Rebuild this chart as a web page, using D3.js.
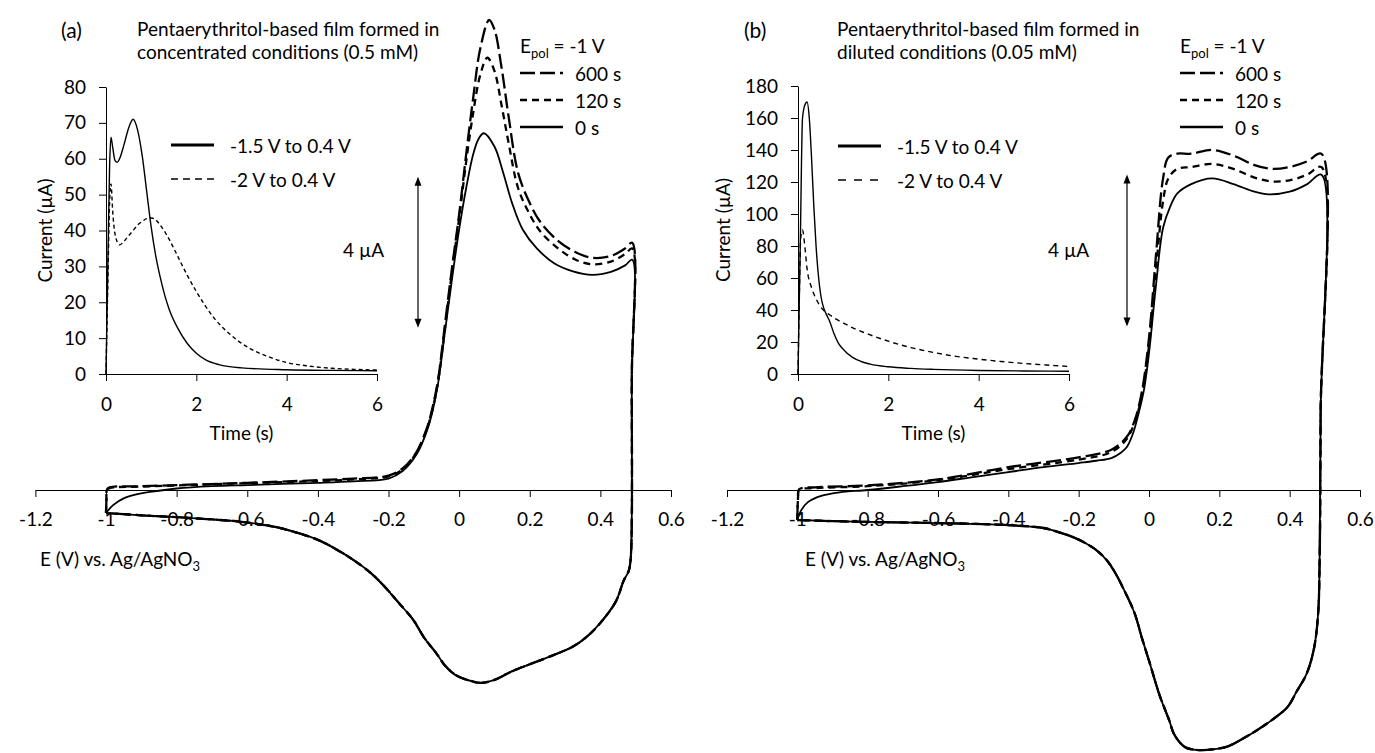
<!DOCTYPE html>
<html>
<head>
<meta charset="utf-8">
<script src="https://d3js.org/d3.v7.min.js"></script>
<style>
  body { margin: 0; background: #fff; }
  svg text { font-family: Lato, "Open Sans", sans-serif; fill: #000; }
</style>
</head>
<body>
<script>
// ---------------- data ----------------
var eTicks = [-1.2, -1, -0.8, -0.6, -0.4, -0.2, 0, 0.2, 0.4, 0.6];
var eLabels = ["-1.2", "-1", "-0.8", "-0.6", "-0.4", "-0.2", "0", "0.2", "0.4", "0.6"];
var tTicks = [0, 2, 4, 6];
var iTicksA = [0, 10, 20, 30, 40, 50, 60, 70, 80];
var iTicksB = [0, 20, 40, 60, 80, 100, 120, 140, 160, 180];
var polNames = ["600 s", "120 s", "0 s"];
var stepNames = ["-1.5 V to 0.4 V", "-2 V to 0.4 V"];

// panel (a) cyclic voltammograms: [E (V), I (µA)], forward branch then return branch
var cvA_0s_up = [[-1.0,-0.61],[-0.98,-0.4],[-0.95,-0.22],[-0.9,-0.09],[-0.85,-0.02],[-0.8,0.04],[-0.7,0.1],[-0.6,0.13],[-0.5,0.16],[-0.4,0.19],[-0.3,0.23],[-0.2,0.3],[-0.16,0.5],[-0.12,0.95],[-0.09,1.6],[-0.075,2.1],[-0.06,2.8],[-0.04,4.2],[-0.02,5.6],[0.0,6.9],[0.02,8.0],[0.04,8.9],[0.055,9.3],[0.07,9.45],[0.1,9.1],[0.125,8.4],[0.15,7.6],[0.18,6.9],[0.22,6.4],[0.27,6.0],[0.32,5.8],[0.377,5.7],[0.43,5.78],[0.47,5.95],[0.49,6.1]];
var cvA_120s_up = [[-1.0,-0.61],[-0.999,-0.3],[-0.997,0.0],[-0.99,0.05],[-0.9,0.09],[-0.8,0.12],[-0.6,0.18],[-0.4,0.24],[-0.3,0.28],[-0.2,0.36],[-0.16,0.55],[-0.12,1.0],[-0.09,1.65],[-0.075,2.15],[-0.06,2.85],[-0.04,4.3],[-0.02,5.8],[0.0,7.2],[0.02,8.7],[0.04,10.0],[0.06,11.0],[0.08,11.45],[0.1,11.1],[0.12,10.2],[0.14,9.2],[0.167,8.0],[0.2,7.3],[0.23,6.85],[0.28,6.4],[0.33,6.1],[0.377,5.98],[0.43,6.05],[0.47,6.25],[0.49,6.4]];
var cvA_600s_up = [[-1.0,-0.61],[-0.999,-0.3],[-0.997,0.02],[-0.99,0.07],[-0.9,0.1],[-0.8,0.13],[-0.6,0.19],[-0.4,0.26],[-0.3,0.3],[-0.2,0.38],[-0.16,0.57],[-0.12,1.02],[-0.09,1.68],[-0.075,2.2],[-0.06,2.9],[-0.04,4.4],[-0.02,5.9],[0.0,7.3],[0.02,8.9],[0.04,10.4],[0.06,11.7],[0.085,12.45],[0.1,12.2],[0.12,11.2],[0.14,9.9],[0.167,8.4],[0.2,7.6],[0.23,7.1],[0.28,6.6],[0.33,6.3],[0.377,6.15],[0.43,6.2],[0.47,6.4],[0.49,6.55]];
var cvA_down = [[0.489,3.0],[0.486,-1.8],[0.48,-2.15],[0.466,-2.4],[0.444,-2.95],[0.40,-3.52],[0.36,-3.9],[0.32,-4.16],[0.26,-4.4],[0.21,-4.58],[0.15,-4.8],[0.10,-5.03],[0.062,-5.11],[0.03,-5.05],[-0.01,-4.9],[-0.04,-4.65],[-0.065,-4.32],[-0.1,-3.9],[-0.13,-3.44],[-0.17,-3.0],[-0.21,-2.57],[-0.25,-2.2],[-0.30,-1.85],[-0.35,-1.56],[-0.40,-1.32],[-0.46,-1.13],[-0.52,-0.98],[-0.61,-0.85],[-0.7,-0.78],[-0.8,-0.72],[-0.9,-0.67],[-1.0,-0.61]];

// panel (b) cyclic voltammograms
var cvB_0s_up = [[-1.0,-0.79],[-0.99,-0.55],[-0.97,-0.32],[-0.93,-0.15],[-0.88,-0.06],[-0.8,0.0],[-0.7,0.1],[-0.6,0.21],[-0.5,0.34],[-0.4,0.47],[-0.3,0.6],[-0.2,0.71],[-0.15,0.77],[-0.107,0.84],[-0.08,0.98],[-0.063,1.13],[-0.045,1.5],[-0.03,2.0],[-0.015,2.6],[0.0,3.6],[0.02,5.4],[0.04,6.9],[0.06,7.45],[0.08,7.8],[0.12,8.05],[0.18,8.2],[0.24,8.05],[0.3,7.85],[0.34,7.78],[0.4,7.85],[0.45,8.05],[0.49,8.3]];
var cvB_120s_up = [[-1.0,-0.79],[-0.998,-0.2],[-0.995,0.0],[-0.95,0.05],[-0.8,0.1],[-0.6,0.26],[-0.4,0.55],[-0.2,0.8],[-0.107,1.0],[-0.063,1.35],[-0.04,1.8],[-0.02,2.5],[0.0,3.8],[0.02,5.8],[0.04,7.6],[0.055,8.2],[0.08,8.45],[0.12,8.5],[0.18,8.58],[0.24,8.45],[0.3,8.22],[0.35,8.12],[0.4,8.15],[0.45,8.3],[0.49,8.5]];
var cvB_600s_up = [[-1.0,-0.79],[-0.998,-0.2],[-0.995,0.02],[-0.95,0.07],[-0.8,0.12],[-0.6,0.28],[-0.4,0.6],[-0.2,0.86],[-0.107,1.06],[-0.063,1.4],[-0.04,1.85],[-0.02,2.6],[0.0,4.0],[0.02,6.2],[0.04,8.2],[0.055,8.75],[0.08,8.85],[0.12,8.85],[0.18,8.95],[0.24,8.8],[0.3,8.55],[0.35,8.45],[0.4,8.5],[0.45,8.65],[0.49,8.85]];
var cvB_down = [[0.488,2.0],[0.485,-2.0],[0.481,-3.24],[0.47,-4.13],[0.449,-4.82],[0.42,-5.3],[0.394,-5.71],[0.35,-6.05],[0.307,-6.32],[0.26,-6.58],[0.22,-6.76],[0.166,-6.84],[0.133,-6.84],[0.105,-6.78],[0.089,-6.66],[0.07,-6.4],[0.057,-6.05],[0.03,-5.4],[0.002,-4.55],[-0.02,-3.9],[-0.041,-3.24],[-0.07,-2.65],[-0.096,-2.18],[-0.12,-1.85],[-0.15,-1.58],[-0.18,-1.4],[-0.216,-1.24],[-0.26,-1.1],[-0.30,-1.0],[-0.41,-0.92],[-0.6,-0.87],[-0.8,-0.84],[-0.9,-0.82],[-1.0,-0.79]];

// insets: current transients [t (s), I (µA)]
var caA_15 = [[0,0],[0.04,30],[0.08,58],[0.11,66],[0.15,63],[0.2,59.5],[0.25,59],[0.3,60],[0.4,64],[0.5,68.5],[0.6,71],[0.7,68],[0.8,61],[0.9,51],[1.0,41],[1.1,33],[1.2,27],[1.3,22],[1.4,18],[1.6,12.5],[1.8,8.5],[2.0,5.8],[2.2,4.0],[2.5,2.6],[3,1.7],[4,1.2],[5,1.0],[6,0.9]];
var caA_20 = [[0,0],[0.04,25],[0.08,48],[0.11,53],[0.15,45],[0.2,39],[0.3,36],[0.4,37],[0.5,38.5],[0.6,40],[0.7,41.5],[0.8,42.5],[0.9,43.3],[1.0,43.5],[1.1,43],[1.2,41.5],[1.4,37.5],[1.6,32.5],[1.8,27.5],[2.0,23],[2.4,15.5],[2.8,10.5],[3.2,7],[3.6,4.8],[4,3.2],[4.5,2.2],[5,1.6],[5.5,1.3],[6,1.1]];
var caB_15 = [[0,0],[0.05,80],[0.1,160],[0.15,168],[0.2,170],[0.25,160],[0.3,135],[0.35,105],[0.4,80],[0.45,62],[0.5,50],[0.55,43],[0.6,39],[0.65,36],[0.7,33],[0.8,25],[0.9,19],[1.0,15.5],[1.2,10.5],[1.4,7.8],[1.6,6.2],[2.0,4.5],[2.5,3.5],[3,2.9],[4,2.2],[5,1.9],[6,1.7]];
var caB_20 = [[0,0],[0.03,50],[0.06,85],[0.1,90],[0.15,80],[0.2,66],[0.3,54],[0.4,47],[0.5,42],[0.6,39],[0.7,37],[0.8,35],[1.0,32],[1.2,29],[1.5,25.5],[2,20.5],[2.5,16.5],[3,13.5],[3.5,11],[4,9.3],[4.5,7.8],[5,6.6],[5.5,5.6],[6,4.7]];

// ---------------- drawing ----------------
var W = 1375, H = 753, FS = 19;
var svg = d3.select("body").append("svg").attr("width", W).attr("height", H);

var styles = {
  "600 s": {dash: "15,5", w: 2.3},
  "120 s": {dash: "7,5", w: 2.3},
  "0 s": {dash: null, w: 1.8}
};

function txt(x, y, s, size, anchor) {
  return svg.append("text").attr("x", x).attr("y", y).attr("font-size", size || FS)
    .attr("text-anchor", anchor || "start").attr("dominant-baseline", "central").text(s);
}

function arrow(x, y1, y2) {
  svg.append("line").attr("x1", x).attr("x2", x).attr("y1", y1 + 6).attr("y2", y2 - 6)
    .attr("stroke", "#000").attr("stroke-width", 1.2);
  svg.append("path").attr("d", "M" + x + "," + y1 + "l-3.5,9h7z").attr("fill", "#000");
  svg.append("path").attr("d", "M" + x + "," + y2 + "l-3.5,-9h7z").attr("fill", "#000");
}

function drawPanel(p) {
  var x = d3.scaleLinear().domain([-1.2, 0.6]).range(p.xr);
  var y = d3.scaleLinear().domain([0, 4]).range([490, 490 - 4 * p.pxPerUA]);
  var t = d3.scaleLinear().domain([0, 6]).range(p.tr);
  var yi = d3.scaleLinear().domain([0, p.iMax]).range([374, p.iTop]);

  // main potential axis
  var gx = svg.append("g").attr("transform", "translate(0,490)")
    .call(d3.axisBottom(x).tickValues(eTicks).tickFormat(function(d, i) { return eLabels[i]; })
      .tickSize(7).tickSizeOuter(0).tickPadding(16));
  gx.selectAll("text").attr("font-size", FS).attr("font-family", null);
  gx.selectAll("path,line").attr("stroke", "#000");

  // inset axes
  var gt = svg.append("g").attr("transform", "translate(0,374)")
    .call(d3.axisBottom(t).tickValues(tTicks).tickFormat(d3.format("d"))
      .tickSize(7).tickSizeOuter(0).tickPadding(17));
  var gi = svg.append("g").attr("transform", "translate(" + p.tr[0] + ",0)")
    .call(d3.axisLeft(yi).tickValues(p.iTicks).tickSize(7).tickSizeOuter(0).tickPadding(13));
  [gt, gi].forEach(function(g) {
    g.selectAll("text").attr("font-size", FS).attr("font-family", null);
    g.selectAll("path,line").attr("stroke", "#000");
  });

  txt(t(3), 432, "Time (s)", FS, "middle");
  svg.append("text").attr("font-size", FS).attr("text-anchor", "middle").attr("dominant-baseline", "central")
    .attr("transform", "translate(" + p.curX + "," + yi(p.iMax / 2) + ") rotate(-90)").text("Current (µA)");

  // inset curves
  var li = d3.line().x(function(d) { return t(d[0]); }).y(function(d) { return yi(d[1]); }).curve(d3.curveMonotoneX);
  svg.append("path").attr("d", li(p.ca[0])).attr("fill", "none").attr("stroke", "#000").attr("stroke-width", 1.4);
  svg.append("path").attr("d", li(p.ca[1])).attr("fill", "none").attr("stroke", "#000").attr("stroke-width", 1.4)
    .attr("stroke-dasharray", p.caDash);

  // inset legend
  svg.append("line").attr("x1", p.leg1[0]).attr("x2", p.leg1[0] + 43).attr("y1", p.leg1[1]).attr("y2", p.leg1[1])
    .attr("stroke", "#000").attr("stroke-width", 3);
  svg.append("line").attr("x1", p.leg1[0]).attr("x2", p.leg1[0] + 43).attr("y1", p.leg1[2]).attr("y2", p.leg1[2])
    .attr("stroke", "#000").attr("stroke-width", 1.6).attr("stroke-dasharray", p.legDash);
  txt(p.leg1[0] + 59, p.leg1[1], stepNames[0]);
  txt(p.leg1[0] + 59, p.leg1[2], stepNames[1]);

  // CV curves
  var lc = d3.line().x(function(d) { return x(d[0]); }).y(function(d) { return y(d[1]); })
    .curve(d3.curveCatmullRom.alpha(0.5));
  ["0 s", "120 s", "600 s"].forEach(function(name) {
    var st = styles[name];
    svg.append("path").attr("d", lc(p.cv[name].concat(p.cvDown))).attr("fill", "none")
      .attr("stroke", "#000").attr("stroke-width", st.w).attr("stroke-dasharray", st.dash)
      .attr("stroke-linejoin", "round");
  });

  // scale bar
  arrow(p.arrowX, y(8.3), y(4.3));
  txt(p.scaleTxtX, 249, "4 µA");

  // E_pol legend
  var lg = svg.append("text").attr("x", p.leg2[0]).attr("y", 53).attr("font-size", FS);
  lg.append("tspan").text("E");
  lg.append("tspan").attr("font-size", 13).attr("dy", 5).text("pol");
  lg.append("tspan").attr("dy", -5).text(" = -1 V");
  polNames.forEach(function(name, k) {
    var yy = [73, 100, 127][k];
    svg.append("line").attr("x1", p.leg2[0]).attr("x2", p.leg2[0] + 43).attr("y1", yy).attr("y2", yy)
      .attr("stroke", "#000").attr("stroke-width", 2.3).attr("stroke-dasharray", styles[name].dash);
    txt(p.leg2[0] + 55, yy, name);
  });

  // E axis title
  var et = svg.append("text").attr("x", p.eTitleX).attr("y", 566).attr("font-size", FS);
  et.append("tspan").text("E (V) vs. Ag/AgNO");
  et.append("tspan").attr("font-size", 13).attr("dy", 5).text("3");

  // panel letter and title
  txt(p.letterX, 29, p.letter, 21);
  txt(p.titleX, 28, "Pentaerythritol-based film formed in");
  txt(p.titleX, 51, p.title2);
}

drawPanel({
  letter: "(a)", letterX: 61, titleX: 137, title2: "concentrated conditions (0.5 mM)",
  xr: [35.4, 671], pxPerUA: 37.75, tr: [106, 377], iMax: 80, iTop: 87, iTicks: iTicksA, curX: 44,
  ca: [caA_15, caA_20], caDash: "4,3", leg1: [171, 145, 179], legDash: "7,5",
  cv: {"0 s": cvA_0s_up, "120 s": cvA_120s_up, "600 s": cvA_600s_up}, cvDown: cvA_down,
  arrowX: 418, scaleTxtX: 343, leg2: [520], eTitleX: 40
});

drawPanel({
  letter: "(b)", letterX: 744, titleX: 837, title2: "diluted conditions (0.05 mM)",
  xr: [727, 1360], pxPerUA: 38, tr: [798, 1069], iMax: 180, iTop: 86, iTicks: iTicksB, curX: 722,
  ca: [caB_15, caB_20], caDash: "5,4", leg1: [838, 146, 180], legDash: "8,8",
  cv: {"0 s": cvB_0s_up, "120 s": cvB_120s_up, "600 s": cvB_600s_up}, cvDown: cvB_down,
  arrowX: 1127, scaleTxtX: 1048, leg2: [1180], eTitleX: 805
});
</script>
</body>
</html>
